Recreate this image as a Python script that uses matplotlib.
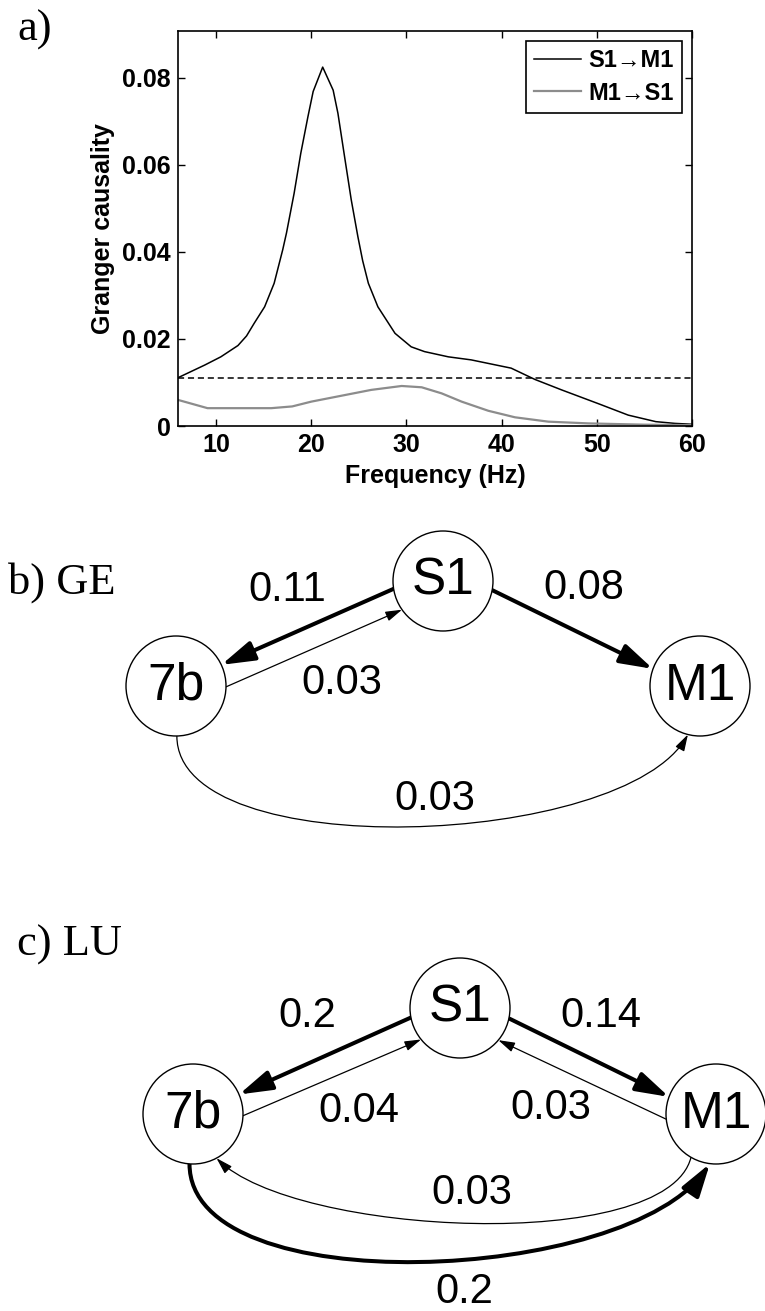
import numpy as np
import matplotlib.pyplot as plt
from matplotlib.patches import Circle, FancyArrowPatch
from matplotlib.path import Path

# ---- panel a data: spectral Granger causality ----
freq_s1m1 = [6, 8.8, 10.5, 12.3, 13.2, 14.0, 15.1, 16.1, 17.0, 17.4, 18.2, 18.9, 19.65, 20.2,
             21.2, 22.3, 22.8, 23.5, 24.2, 24.9, 25.4, 26.0, 27.0, 28.8, 30.5, 31.9, 34.4,
             36.8, 41.0, 43.5, 46.3, 50.2, 53.3, 56.2, 58.2, 60]
gc_s1m1 = [0.0111, 0.0140, 0.0159, 0.0185, 0.0207, 0.0236, 0.0274, 0.0328, 0.0405, 0.0444,
           0.0535, 0.0627, 0.0711, 0.0769, 0.0825, 0.0772, 0.0719, 0.0619, 0.0520, 0.0435,
           0.0380, 0.0328, 0.0274, 0.0213, 0.0182, 0.0171, 0.0159, 0.0152, 0.0133, 0.0107,
           0.0083, 0.0051, 0.0025, 0.0010, 0.0006, 0.0004]
freq_m1s1 = [6, 9.1, 12, 15.8, 18, 20.0, 23.5, 26.3, 29.5, 31.6, 33.7, 35.8, 38.6, 41.4,
             44.9, 49.1, 55, 60]
gc_m1s1 = [0.0060, 0.0041, 0.0041, 0.0041, 0.0045, 0.0056, 0.0071, 0.0083, 0.0092, 0.0089,
           0.0075, 0.0056, 0.0035, 0.0020, 0.0010, 0.0006, 0.0003, 0.0002]
threshold = 0.011
xticks = [10, 20, 30, 40, 50, 60]
yticks = [0, 0.02, 0.04, 0.06, 0.08]
ytick_labels = ['0', '0.02', '0.04', '0.06', '0.08']
series_labels = ['S1\u2192M1', 'M1\u2192S1']

# ---- panels b, c data: network edges (source, target, value) ----
nodes = ['S1', '7b', 'M1']
edges_ge = [('S1', '7b', 0.11), ('7b', 'S1', 0.03), ('S1', 'M1', 0.08), ('7b', 'M1', 0.03)]
edges_lu = [('S1', '7b', 0.2), ('7b', 'S1', 0.04), ('S1', 'M1', 0.14), ('M1', 'S1', 0.03),
            ('M1', '7b', 0.03), ('7b', 'M1', 0.2)]

# layout (pixel coords, y down)
R = 50
pos_ge = {'S1': (443, 581), '7b': (176, 686), 'M1': (700, 686)}
pos_lu = {'S1': (460, 1008), '7b': (193, 1114), 'M1': (716, 1114)}
# per edge: angle at source, angle at target, curve (None or (dirA, lenA, dirB, lenB)), label xy
geom_ge = [(171, -25, None, (287, 590)),
           (1, 145, None, (342, 683)),
           (10.5, 200, None, (584, 588)),
           (89, 104, (90, 130, 119, 130), (435, 799))]
geom_lu = [(169, -23, None, (307, 1016)),
           (2, 141, None, (359, 1111)),
           (12, 200, None, (601, 1016)),
           (174, 40, None, (551, 1108)),
           (120, 62, (104, 100, 45, 110), (472, 1193)),
           (94, 97, (90, 140, 124, 145), (464, 1292))]

fig = plt.figure(figsize=(7.65, 13.11), dpi=100)
ax_d = fig.add_axes([0, 0, 1, 1])
ax_d.set_xlim(0, 765)
ax_d.set_ylim(1311, 0)
ax_d.axis('off')


def draw_net(pos, edges, geom):
    for name in nodes:
        cx, cy = pos[name]
        ax_d.add_patch(Circle((cx, cy), R, fc='white', ec='black', lw=1.0, zorder=3))
        ax_d.text(cx, cy, name, ha='center', va='center', fontsize=37,
                  family='Liberation Sans', zorder=4)
    for (src, dst, val), (aA, aB, curve, lab) in zip(edges, geom):
        sx, sy = pos[src]
        tx, ty = pos[dst]
        p0 = (sx + R * np.cos(np.radians(aA)), sy + R * np.sin(np.radians(aA)))
        p3 = (tx + R * np.cos(np.radians(aB)), ty + R * np.sin(np.radians(aB)))
        if curve is None:
            path = Path([p0, p3], [Path.MOVETO, Path.LINETO])
        else:
            dA, lA, dB, lB = curve
            p1 = (p0[0] + lA * np.cos(np.radians(dA)), p0[1] + lA * np.sin(np.radians(dA)))
            p2 = (p3[0] + lB * np.cos(np.radians(dB)), p3[1] + lB * np.sin(np.radians(dB)))
            path = Path([p0, p1, p2, p3], [Path.MOVETO, Path.CURVE4, Path.CURVE4, Path.CURVE4])
        thick = val >= 0.08
        lw = 2.9 if thick else 0.9
        style = '-|>,head_length=20,head_width=6' if thick else '-|>,head_length=10,head_width=3'
        ax_d.add_patch(FancyArrowPatch(path=path, arrowstyle=style, lw=lw, color='black',
                                       mutation_scale=1, zorder=2))
        ax_d.text(lab[0], lab[1], f'{val:g}', ha='center', va='center', fontsize=30,
                  family='Liberation Sans')


draw_net(pos_ge, edges_ge, geom_ge)
draw_net(pos_lu, edges_lu, geom_lu)

ax_d.text(8, 583, 'b) GE', ha='left', va='center', fontsize=32, family='Liberation Serif')
ax_d.text(17, 945, 'c) LU', ha='left', va='center', fontsize=32, family='Liberation Serif')
ax_d.text(17, 30, 'a)', ha='left', va='center', fontsize=32, family='Liberation Serif')

# ---- panel a ----
tick_font = {'family': ['Liberation Sans', 'DejaVu Sans'], 'weight': 'bold', 'size': 18}
ax = fig.add_axes([178 / 765, 1 - 426 / 1311, 514 / 765, 395 / 1311])
ax.plot(freq_s1m1, gc_s1m1, color='black', lw=1.1, label=series_labels[0])
ax.plot(freq_m1s1, gc_m1s1, color='#8c8c8c', lw=1.6, label=series_labels[1])
ax.axhline(threshold, color='black', lw=1.1, ls=(0, (4, 2.5)))
ax.set_xlim(6, 60)
ax.set_ylim(0, 0.0908)
ax.set_xticks(xticks)
ax.set_xticklabels([str(t) for t in xticks], fontdict=tick_font)
ax.set_yticks(yticks)
ax.set_yticklabels(ytick_labels, fontdict=tick_font)
ax.tick_params(direction='in', top=True, right=True, length=5, width=1, pad=5)
for sp in ax.spines.values():
    sp.set_linewidth(1.2)
ax.set_xlabel('Frequency (Hz)', fontdict=tick_font, labelpad=5)
ax.set_ylabel('Granger causality', fontdict=tick_font, labelpad=5)
leg = ax.legend(loc='upper right', bbox_to_anchor=(0.98, 0.975), borderaxespad=0,
                prop={'family': ['Liberation Sans', 'DejaVu Sans'], 'weight': 'bold', 'size': 17},
                fancybox=False, framealpha=1, edgecolor='black', handlelength=2.0,
                handletextpad=0.3, labelspacing=0.4, borderpad=0.35)
leg.get_frame().set_linewidth(1.2)

fig.savefig('out.png', dpi=100)
